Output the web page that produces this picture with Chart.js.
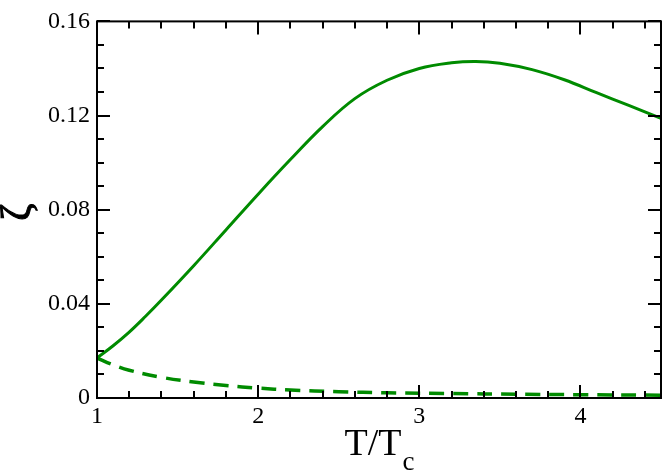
<!DOCTYPE html>
<html>
<head>
<meta charset="utf-8">
<script src="https://cdn.jsdelivr.net/npm/chart.js@4.4.1/dist/chart.umd.min.js"></script>
<style>
  html, body { margin: 0; padding: 0; background: #fff; }
  #wrap { width: 664px; height: 474px; }
</style>
</head>
<body>
<div id="wrap"><canvas id="c" width="664" height="474"></canvas></div>
<script>
// ---- data ----
const solidT = [1.0, 1.1, 1.2, 1.3, 1.4, 1.6, 1.8, 2.0, 2.2, 2.4, 2.6, 2.8, 3.0, 3.2, 3.35, 3.5, 3.7, 3.9, 4.1, 4.3, 4.5];
const solidZeta = [0.0170, 0.0222, 0.0280, 0.0346, 0.0416, 0.0562, 0.0714, 0.0866, 0.1013, 0.1153, 0.1272, 0.1350, 0.1400, 0.1424, 0.1430, 0.1422, 0.1395, 0.1352, 0.1297, 0.1243, 0.1188];
const dashedT = [1.0, 1.1, 1.2, 1.4, 1.6, 1.8, 2.0, 2.2, 2.5, 2.8, 3.2, 3.6, 4.0, 4.5];
const dashedZeta = [0.0170, 0.0141, 0.0118, 0.0088, 0.0068, 0.0053, 0.0042, 0.0034, 0.0027, 0.0022, 0.0019, 0.0016, 0.0014, 0.0012];

const xMajorTicks = [1, 2, 3, 4];
const xMinorTicks = [1.2, 1.4, 1.6, 1.8, 2.2, 2.4, 2.6, 2.8, 3.2, 3.4, 3.6, 3.8, 4.2, 4.4];
const yMajorTicks = [0, 0.04, 0.08, 0.12, 0.16];
const yMinorTicks = [0.01, 0.02, 0.03, 0.05, 0.06, 0.07, 0.09, 0.10, 0.11, 0.13, 0.14, 0.15];
const yTickLabels = ["0", "0.04", "0.08", "0.12", "0.16"];
const xTickLabels = ["1", "2", "3", "4"];

const xTitleMain = "T/T";
const xTitleSub = "c";
const yTitle = "ζ";

const GREEN = "#008b00";
const SERIF = "'Liberation Serif', 'DejaVu Serif', serif";

const toPts = (xs, ys) => xs.map((x, i) => ({ x: x, y: ys[i] }));

const framePlugin = {
  id: 'frameTicks',
  afterDatasetsDraw(chart) {
    const ctx = chart.ctx;
    const a = chart.chartArea;
    const xs = chart.scales.x, ys = chart.scales.y;
    ctx.save();
    ctx.strokeStyle = '#000';
    ctx.lineWidth = 2;
    ctx.lineCap = 'butt';
    ctx.strokeRect(a.left, a.top, a.right - a.left, a.bottom - a.top);
    const MAJ = 13, MIN = 7;
    ctx.beginPath();
    const xt = (v, len) => {
      const p = Math.round(xs.getPixelForValue(v));
      ctx.moveTo(p, a.bottom); ctx.lineTo(p, a.bottom - len);
      ctx.moveTo(p, a.top); ctx.lineTo(p, a.top + len);
    };
    const yt = (v, len) => {
      const p = Math.round(ys.getPixelForValue(v));
      ctx.moveTo(a.left, p); ctx.lineTo(a.left + len, p);
      ctx.moveTo(a.right, p); ctx.lineTo(a.right - len, p);
    };
    xMajorTicks.forEach(v => xt(v, MAJ));
    xMinorTicks.forEach(v => xt(v, MIN));
    yMajorTicks.forEach(v => yt(v, MAJ));
    yMinorTicks.forEach(v => yt(v, MIN));
    ctx.stroke();
    ctx.restore();
  },
  afterDraw(chart) {
    const ctx = chart.ctx;
    const a = chart.chartArea;
    ctx.save();
    ctx.fillStyle = '#000';
    const mainFont = "38px " + SERIF;
    const subFont = "27px " + SERIF;
    ctx.font = mainFont;
    const wMain = ctx.measureText(xTitleMain).width;
    ctx.font = subFont;
    const wSub = ctx.measureText(xTitleSub).width;
    const cx = (a.left + a.right) / 2;
    const x0 = cx - (wMain + wSub) / 2;
    ctx.textBaseline = 'alphabetic';
    ctx.textAlign = 'left';
    ctx.font = mainFont;
    ctx.fillText(xTitleMain, x0, 455);
    ctx.font = subFont;
    ctx.fillText(xTitleSub, x0 + wMain + 1, 470);
    ctx.restore();

    // y title, rotated, sized so its rotated horizontal extent is ~38px
    ctx.save();
    ctx.fillStyle = '#000';
    ctx.strokeStyle = '#000';
    ctx.lineWidth = 1;
    ctx.textAlign = 'left';
    ctx.textBaseline = 'alphabetic';
    ctx.font = "100px " + SERIF;
    let m = ctx.measureText(yTitle);
    const h100 = m.actualBoundingBoxAscent + m.actualBoundingBoxDescent;
    const size = h100 > 0 ? 100 * 37 / h100 : 40;
    ctx.font = size.toFixed(1) + "px " + SERIF;
    m = ctx.measureText(yTitle);
    const lx0 = (m.actualBoundingBoxLeft - m.actualBoundingBoxRight) / 2;
    const ly0 = (m.actualBoundingBoxAscent - m.actualBoundingBoxDescent) / 2;
    ctx.translate(19, (a.top + a.bottom) / 2 + 2);
    ctx.rotate(-Math.PI / 2);
    ctx.fillText(yTitle, lx0, ly0);
    ctx.strokeText(yTitle, lx0, ly0);
    ctx.restore();
  }
};

new Chart(document.getElementById('c'), {
  type: 'line',
  data: {
    datasets: [
      { data: toPts(solidT, solidZeta), borderColor: GREEN, borderWidth: 3, pointRadius: 0, fill: false, tension: 0.4 },
      { data: toPts(dashedT, dashedZeta), borderColor: GREEN, borderWidth: 3.5, borderDash: [15, 9], pointRadius: 0, fill: false, tension: 0.4 }
    ]
  },
  options: {
    responsive: false,
    animation: false,
    devicePixelRatio: 1,
    layout: { padding: { top: 10, right: 3, left: 0, bottom: 0 } },
    plugins: { legend: { display: false }, tooltip: { enabled: false } },
    scales: {
      x: {
        type: 'linear', min: 1, max: 4.5,
        grid: { display: false, drawTicks: false },
        border: { display: false },
        afterBuildTicks: s => { s.ticks = xMajorTicks.map(v => ({ value: v })); },
        afterFit: s => { s.height = 76; },
        ticks: { color: '#000', font: { family: SERIF, size: 24 }, padding: 4, maxRotation: 0, autoSkip: false,
          callback: (v) => { const i = xMajorTicks.indexOf(v); return i >= 0 ? xTickLabels[i] : ''; } }
      },
      y: {
        type: 'linear', min: 0, max: 0.16,
        grid: { display: false, drawTicks: false },
        border: { display: false },
        afterBuildTicks: s => { s.ticks = yMajorTicks.map(v => ({ value: v })); },
        afterFit: s => { s.width = 97; },
        ticks: { color: '#000', font: { family: SERIF, size: 24 }, padding: 7, autoSkip: false,
          callback: (v) => { const i = yMajorTicks.findIndex(t => Math.abs(t - v) < 1e-9); return i >= 0 ? yTickLabels[i] : ''; } }
      }
    }
  },
  plugins: [framePlugin]
});
</script>
</body>
</html>
